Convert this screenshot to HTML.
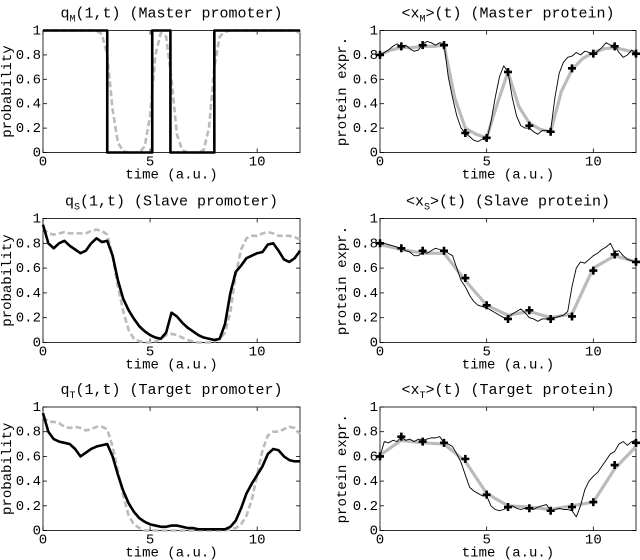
<!DOCTYPE html>
<html><head><meta charset="utf-8"><style>
body{margin:0;background:#fff;}
svg{display:block;font-family:"Liberation Mono",monospace;}
</style></head><body>
<svg id="fig" width="640" height="560" viewBox="0 0 640 560" xmlns="http://www.w3.org/2000/svg"></svg>
<script>
// ---- data ----
const xTicks=[0,5,10];
const yTicks=[0,0.2,0.4,0.6,0.8,1];
const yTickLabels=["0","0.2","0.4","0.6","0.8","1"];
const markerTimes=[0,1,2,3,4,5,6,7,8,9,10,11,12];
// panel 1 master promoter
const p1StepT=[0,3,3,5.1,5.1,5.95,5.95,8,8,12];
const p1StepV=[1,1,0,0,1,1,0,0,1,1];
const p1Gray=[1,1,1,1,1,1,1,1,1,1,1,0.97,0.8,0.35,0.08,0.01,0,0,0,0.05,0.3,0.8,0.98,0.95,0.6,0.15,0.02,0,0,0,0.02,0.2,0.7,0.95,0.99,1,1,1,1,1,1,1,1,1,1,1,1,1,0.98];
// panel 2 master protein
const p2Markers=[0.8,0.87,0.88,0.88,0.16,0.12,0.66,0.22,0.17,0.69,0.81,0.87,0.81];
const p2Gray=[0.8,0.84,0.86,0.86,0.87,0.87,0.88,0.45,0.2,0.15,0.12,0.4,0.66,0.38,0.24,0.19,0.17,0.5,0.68,0.77,0.82,0.85,0.86,0.84,0.82];
const p2Noisy=[0.8,0.82,0.84,0.87,0.89,0.87,0.88,0.85,0.83,0.84,0.89,0.91,0.9,0.88,0.9,0.89,0.62,0.45,0.3,0.2,0.16,0.13,0.1,0.09,0.11,0.1,0.25,0.45,0.62,0.71,0.66,0.45,0.3,0.22,0.2,0.2,0.17,0.15,0.18,0.18,0.18,0.45,0.65,0.74,0.78,0.79,0.82,0.8,0.83,0.82,0.8,0.83,0.86,0.9,0.88,0.88,0.82,0.78,0.8,0.84,0.81];
// panel 3 slave promoter
const p3Black=[0.95,0.8,0.76,0.8,0.82,0.78,0.75,0.72,0.74,0.8,0.84,0.81,0.82,0.7,0.5,0.35,0.26,0.19,0.13,0.09,0.06,0.04,0.03,0.08,0.24,0.21,0.16,0.12,0.09,0.06,0.04,0.03,0.02,0.03,0.15,0.4,0.57,0.62,0.68,0.7,0.72,0.73,0.79,0.8,0.74,0.67,0.65,0.68,0.74];
const p3Gray=[0.92,0.88,0.87,0.88,0.89,0.88,0.88,0.88,0.88,0.9,0.91,0.9,0.87,0.7,0.45,0.25,0.1,0.03,0.01,0,0,0.01,0.03,0.06,0.07,0.06,0.04,0.02,0.01,0,0,0,0.01,0.03,0.08,0.25,0.55,0.75,0.84,0.86,0.86,0.88,0.89,0.88,0.86,0.86,0.86,0.85,0.83];
// panel 4 slave protein
const p4Markers=[0.8,0.76,0.74,0.74,0.52,0.3,0.19,0.26,0.19,0.21,0.58,0.71,0.65];
const p4Gray=[0.79,0.75,0.72,0.72,0.5,0.3,0.22,0.25,0.2,0.23,0.6,0.7,0.65];
const p4Noisy=[0.8,0.8,0.79,0.78,0.77,0.76,0.74,0.73,0.7,0.7,0.73,0.72,0.74,0.76,0.75,0.74,0.72,0.7,0.6,0.5,0.45,0.38,0.33,0.3,0.29,0.28,0.26,0.24,0.22,0.2,0.2,0.23,0.25,0.27,0.24,0.2,0.19,0.17,0.19,0.19,0.2,0.2,0.21,0.22,0.25,0.45,0.6,0.65,0.64,0.67,0.7,0.72,0.75,0.77,0.8,0.73,0.74,0.7,0.67,0.66,0.64];
// panel 5 target promoter
const p5Black=[0.95,0.8,0.74,0.72,0.71,0.7,0.66,0.6,0.63,0.66,0.68,0.69,0.7,0.6,0.45,0.32,0.22,0.15,0.1,0.07,0.05,0.04,0.03,0.03,0.04,0.04,0.03,0.02,0.02,0.01,0.01,0.01,0.01,0.01,0.01,0.03,0.08,0.18,0.3,0.38,0.45,0.52,0.62,0.66,0.65,0.6,0.57,0.56,0.56];
const p5Gray=[0.92,0.88,0.88,0.87,0.84,0.83,0.84,0.83,0.81,0.82,0.84,0.84,0.82,0.68,0.48,0.28,0.12,0.05,0.02,0,0,0,0,0,0,0,0,0,0,0,0,0,0,0,0,0.01,0.02,0.05,0.12,0.25,0.45,0.65,0.77,0.8,0.8,0.82,0.84,0.83,0.78];
// panel 6 target protein
const p6Markers=[0.6,0.76,0.72,0.71,0.58,0.29,0.19,0.18,0.16,0.19,0.23,0.53,0.71];
const p6Gray=[0.61,0.73,0.71,0.7,0.56,0.3,0.2,0.19,0.17,0.2,0.23,0.5,0.68];
const p6Noisy=[0.6,0.72,0.71,0.73,0.72,0.76,0.73,0.74,0.72,0.74,0.73,0.74,0.75,0.75,0.76,0.71,0.7,0.68,0.62,0.55,0.45,0.35,0.32,0.3,0.28,0.28,0.2,0.17,0.16,0.17,0.19,0.2,0.18,0.17,0.18,0.18,0.17,0.19,0.2,0.21,0.16,0.17,0.18,0.17,0.17,0.16,0.11,0.2,0.33,0.4,0.44,0.47,0.52,0.57,0.62,0.64,0.7,0.72,0.69,0.72,0.73];

const NS="http://www.w3.org/2000/svg";
const svg=document.getElementById('fig');
function mk(tag,attrs,parent){const e=document.createElementNS(NS,tag);for(const k in attrs)e.setAttribute(k,attrs[k]);(parent||svg).appendChild(e);return e;}
function times(n,step){const a=[];for(let i=0;i<n;i++)a.push(+(i*step).toFixed(3));return a;}

function panel(box,title,sub,titleRest,ylabel,name){
  const g=mk('g',{});
  
  
  const sx=t=>box.x0+(t/12)*(box.x1-box.x0);
  const sy=v=>box.y1-v*(box.y1-box.y0);
  const frame=mk('rect',{x:box.x0,y:box.y0,width:box.x1-box.x0,height:box.y1-box.y0,fill:'none',stroke:'#000','stroke-width':0.8},g);
  
  
  xTicks.forEach(t=>{
    mk('line',{x1:sx(t),x2:sx(t),y1:box.y1,y2:box.y1-4,stroke:'#000','stroke-width':0.8},g);
    mk('line',{x1:sx(t),x2:sx(t),y1:box.y0,y2:box.y0+4,stroke:'#000','stroke-width':0.8},g);
    const tl=mk('text',{x:sx(t),y:box.y1+13,'font-size':14,'text-anchor':'middle'},g);
    tl.textContent=String(t);
    
    
  });
  yTicks.forEach((v,i)=>{
    mk('line',{x1:box.x0,x2:box.x0+4,y1:sy(v),y2:sy(v),stroke:'#000','stroke-width':0.8},g);
    mk('line',{x1:box.x1,x2:box.x1-4,y1:sy(v),y2:sy(v),stroke:'#000','stroke-width':0.8},g);
    const tl=mk('text',{x:box.x0-2,y:sy(v)+4,'font-size':14,'text-anchor':'end'},g);
    tl.textContent=yTickLabels[i];
    
    
  });
  const xl=mk('text',{x:(box.x0+box.x1)/2,y:box.y1+26,'font-size':14,'text-anchor':'middle'},g);
  xl.textContent='time (a.u.)';
  
  
  const yl=mk('text',{x:0,y:0,'font-size':14,'text-anchor':'middle',transform:`translate(${box.ylx},${(box.y0+box.y1)/2}) rotate(-90)`},g);
  yl.textContent=ylabel;
  
  
  const tt=mk('text',{x:(box.x0+box.x1)/2,y:box.y0-13,'font-size':15,'text-anchor':'middle'},g);
  
  
  const a=mk('tspan',{},tt);a.textContent=title;
  const b=mk('tspan',{dy:4,'font-size':10},tt);b.textContent=sub;
  const c=mk('tspan',{dy:-4},tt);c.textContent=titleRest;
  return {g,sx,sy};
}
function line(p,ts,vs,style,name){
  const d=ts.map((t,i)=>(i?'L':'M')+p.sx(t).toFixed(2)+','+p.sy(vs[i]).toFixed(2)).join('');
  const e=mk('path',Object.assign({d,fill:'none','stroke-linejoin':'round'},style),p.g);
  
  
}
function markers(p,ts,vs){
  ts.forEach((t,i)=>{
    const x=p.sx(t),y=p.sy(vs[i]);
    const m=mk('path',{d:`M${x-4},${y}H${x+4}M${x},${y-4}V${y+4}`,stroke:'#000','stroke-width':2.6},p.g);
    
    
  });
}
const L={x0:43,x1:300,ylx:11},R={x0:380,x1:636,ylx:346};
const rows=[[30.5,152.5],[218.5,342.5],[407,530.5]];
const dash={stroke:'#bbb','stroke-width':2.6,'stroke-dasharray':'6,3'};
const thick={stroke:'#000','stroke-width':2.6};
const grayS={stroke:'#bbb','stroke-width':3.2};
const thin={stroke:'#000','stroke-width':0.9};
const t25=times(49,0.25), t20=times(61,0.2), t50=times(25,0.5);

let p=panel(Object.assign({},L,{y0:rows[0][0],y1:rows[0][1]}),'q','M','(1,t) (Master promoter)','probability','master-promoter-panel');
line(p,t25,p1Gray,dash,'model-promoter-line');
line(p,p1StepT,p1StepV,thick,'true-promoter-line');
p=panel(Object.assign({},R,{y0:rows[0][0],y1:rows[0][1]}),'<x','M','>(t) (Master protein)','protein expr.','master-protein-panel');
line(p,t50,p2Gray,grayS,'model-protein-line');
line(p,t20,p2Noisy,thin,'simulated-protein-line');
markers(p,markerTimes,p2Markers);

p=panel(Object.assign({},L,{y0:rows[1][0],y1:rows[1][1]}),'q','S','(1,t) (Slave promoter)','probability','slave-promoter-panel');
line(p,t25,p3Gray,dash,'model-promoter-line');
line(p,t25,p3Black,thick,'estimated-promoter-line');
p=panel(Object.assign({},R,{y0:rows[1][0],y1:rows[1][1]}),'<x','S','>(t) (Slave protein)','protein expr.','slave-protein-panel');
line(p,markerTimes,p4Gray,grayS,'model-protein-line');
line(p,t20,p4Noisy,thin,'simulated-protein-line');
markers(p,markerTimes,p4Markers);

p=panel(Object.assign({},L,{y0:rows[2][0],y1:rows[2][1]}),'q','T','(1,t) (Target promoter)','probability','target-promoter-panel');
line(p,t25,p5Gray,dash,'model-promoter-line');
line(p,t25,p5Black,thick,'estimated-promoter-line');
p=panel(Object.assign({},R,{y0:rows[2][0],y1:rows[2][1]}),'<x','T','>(t) (Target protein)','protein expr.','target-protein-panel');
line(p,markerTimes,p6Gray,grayS,'model-protein-line');
line(p,t20,p6Noisy,thin,'simulated-protein-line');
markers(p,markerTimes,p6Markers);
</script>
</body></html>
